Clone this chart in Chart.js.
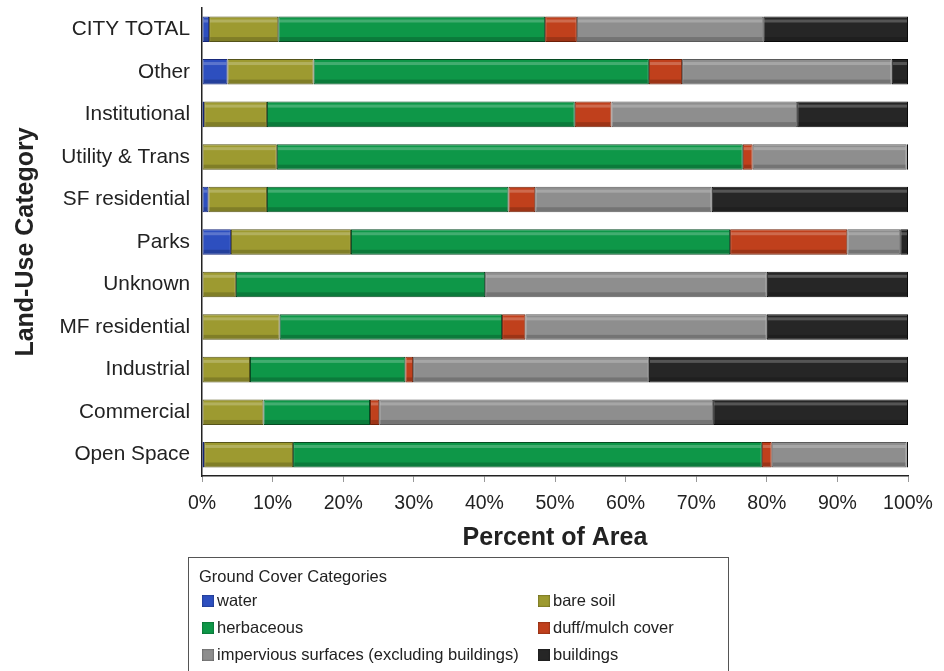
<!DOCTYPE html>
<html lang="en">

<head>
  <meta charset="UTF-8" />
  <title>Ground cover by land use</title>
  <script src="https://cdn.jsdelivr.net/npm/chart.js"></script>
  <style>
    html, body { margin: 0; padding: 0; background: #fff; overflow: hidden; }
    #wrap { position: relative; width: 944px; height: 671px; }
    #legendBox {
      position: absolute; left: 188px; top: 557px; width: 541px; height: 120px;
      border: 1px solid #555; font-family: "Liberation Sans", Arial, sans-serif;
      font-size: 16.5px; color: #222; box-sizing: border-box;
    }
    #legendBox .ttl { position: absolute; left: 10px; top: 9px; }
    #legendBox .item { position: absolute; white-space: nowrap; }
    #legendBox .sw {
      display: inline-block; width: 12px; height: 12px; margin-right: 3px;
      vertical-align: -1px; box-shadow: inset 0 0 2px rgba(0,0,0,0.6);
    }
  </style>
</head>

<body>
  <div id="wrap">
    <canvas id="coverChart" width="944" height="671"></canvas>
    <div id="legendBox"><div class="ttl">Ground Cover Categories</div></div>
  </div>

  <script>
    // land-use rows, top to bottom
    const categories = ['CITY TOTAL', 'Other', 'Institutional', 'Utility & Trans', 'SF residential',
      'Parks', 'Unknown', 'MF residential', 'Industrial', 'Commercial', 'Open Space'];

    const seriesNames = ['water', 'bare soil', 'herbaceous', 'duff/mulch cover',
      'impervious surfaces (excluding buildings)', 'buildings'];
    const seriesColors = ['#2d4fbf', '#9d9a30', '#0e9748', '#c0401c', '#8e8e8e', '#262626'];
    const seriesBorders = ['#17287a', '#55531a', '#064a22', '#6e2008', '#5a5a5a', '#0a0a0a'];

    // percent of area
    const water      = [1.0, 3.6, 0.3, 0.0, 0.9, 4.1, 0.0, 0.0, 0.0, 0.0, 0.3];
    const bareSoil   = [9.8, 12.2, 8.9, 10.6, 8.3, 17.0, 4.8, 11.0, 6.8, 8.7, 12.6];
    const herbaceous = [37.8, 47.5, 43.6, 66.0, 34.2, 53.7, 35.3, 31.5, 22.0, 15.1, 66.4];
    const duffMulch  = [4.5, 4.7, 5.2, 1.4, 3.8, 16.6, 0.0, 3.3, 1.1, 1.3, 1.4];
    const impervious = [26.4, 29.7, 26.3, 21.8, 25.0, 7.5, 39.9, 34.2, 33.4, 47.3, 19.1];
    const buildings  = [20.5, 2.3, 15.7, 0.2, 27.8, 1.1, 20.0, 20.0, 36.7, 27.6, 0.2];

    const xTicks = [0, 10, 20, 30, 40, 50, 60, 70, 80, 90, 100];

    const seriesData = [water, bareSoil, herbaceous, duffMulch, impervious, buildings];
    const fontFam = '"Liberation Sans", Arial, sans-serif';

    // light stripe near the top of each bar for the bevelled look
    const bevel = {
      id: 'bevel',
      afterDatasetsDraw(chart) {
        const ctx = chart.ctx;
        chart.data.datasets.forEach((ds, i) => {
          chart.getDatasetMeta(i).data.forEach(bar => {
            const w = bar.x - bar.base;
            if (w < 3) return;
            const top = bar.y - bar.height / 2;
            ctx.save();
            ctx.fillStyle = 'rgba(255,255,255,0.22)';
            ctx.fillRect(bar.base + 1, top + 3, w - 2, 3);
            ctx.fillStyle = 'rgba(0,0,0,0.18)';
            ctx.fillRect(bar.base + 1, top + bar.height - 5, w - 2, 4);
            ctx.restore();
          });
        });
      }
    };

    new Chart(document.getElementById('coverChart'), {
      type: 'bar',
      data: {
        labels: categories,
        datasets: seriesNames.map((name, i) => ({
          label: name,
          data: seriesData[i],
          backgroundColor: seriesColors[i],
          borderColor: seriesBorders[i],
          borderWidth: 1,
          borderSkipped: false,
          barPercentage: 0.6,
          categoryPercentage: 1
        }))
      },
      options: {
        indexAxis: 'y',
        responsive: false,
        animation: false,
        layout: { padding: { left: 0, right: 36, top: 8, bottom: 118 } },
        plugins: {
          legend: { display: false },
          tooltip: { enabled: false }
        },
        scales: {
          x: {
            stacked: true,
            min: 0,
            max: 100,
            afterBuildTicks: scale => { scale.ticks = xTicks.map(v => ({ value: v })); },
            afterFit: scale => { scale.height = 77; },
            grid: { drawOnChartArea: false, drawTicks: true, tickLength: 6, color: '#999' },
            border: { color: '#222', width: 1.5 },
            ticks: {
              color: '#222',
              padding: 10,
              font: { family: fontFam, size: 19.5 },
              callback: v => v + '%'
            },
            title: {
              display: true,
              text: 'Percent of Area',
              color: '#222',
              padding: { top: 0, bottom: 0 },
              font: { family: fontFam, size: 25, weight: 'bold' }
            }
          },
          y: {
            stacked: true,
            afterFit: scale => {
              scale.width = 202;
              scale.paddingTop = 0;
              scale.paddingBottom = 0;
            },
            grid: { display: false, drawTicks: false },
            border: { display: true, color: '#222', width: 1.5 },
            ticks: {
              color: '#222',
              padding: 12,
              font: { family: fontFam, size: 20.8 }
            },
            title: {
              display: true,
              text: 'Land-Use Category',
              color: '#222',
              padding: { top: 11, bottom: 0 },
              font: { family: fontFam, size: 25, weight: 'bold' }
            }
          }
        }
      },
      plugins: [bevel]
    });

    // legend box, two columns like the original
    const legendBox = document.getElementById('legendBox');
    const colLeft = [13, 349];
    seriesNames.forEach((name, i) => {
      const el = document.createElement('div');
      el.className = 'item';
      el.style.left = colLeft[i % 2] + 'px';
      el.style.top = (33 + Math.floor(i / 2) * 27) + 'px';
      el.innerHTML = '<span class="sw" style="background:' + seriesColors[i] + '"></span>' + name;
      legendBox.appendChild(el);
    });
  </script>
</body>

</html>
